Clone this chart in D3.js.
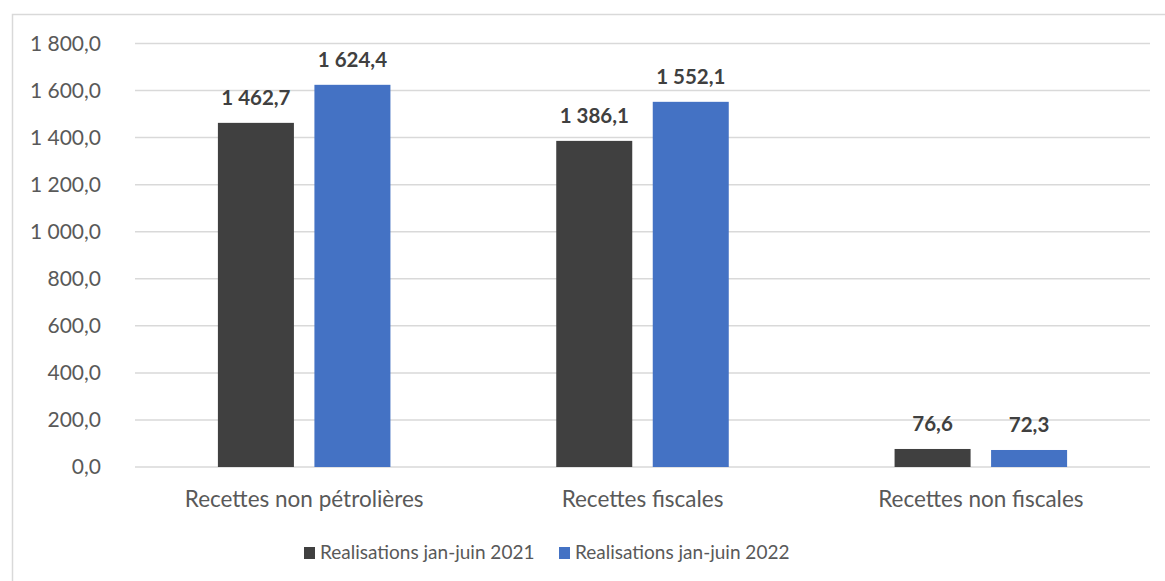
<!DOCTYPE html>
<html>
<head>
<meta charset="utf-8">
<script src="https://cdn.jsdelivr.net/npm/d3@7"></script>
<style>
  html, body { margin: 0; padding: 0; background: #fff; }
  svg { display: block; }
</style>
</head>
<body>
<svg id="chart" width="1165" height="581"></svg>
<script>
// Recettes (jan-juin), by category and period
const categories = ["Recettes non pétrolières", "Recettes fiscales", "Recettes non fiscales"];
const seriesNames = ["Realisations jan-juin 2021", "Realisations jan-juin 2022"];
const values2021 = [1462.7, 1386.1, 76.6];
const values2022 = [1624.4, 1552.1, 72.3];
const yTicks = [0, 200, 400, 600, 800, 1000, 1200, 1400, 1600, 1800];
const colors = ["#404040", "#4472C4"];

const W = 1165, H = 581;
const margin = { left: 135, right: 15, top: 43.5, bottom: 114 };
const svg = d3.select("#chart");
const font = "Lato, 'Open Sans', sans-serif";

// outer chart frame
svg.append("rect")
  .attr("x", 12.5).attr("y", 14.5)
  .attr("width", W + 20).attr("height", H + 20)
  .attr("fill", "#fff").attr("stroke", "#d9d9d9").attr("stroke-width", 1.5);

const x = d3.scaleBand().domain(categories).range([margin.left, W - margin.right]);
const y = d3.scaleLinear().domain([0, 1800]).range([H - margin.bottom, margin.top]);

const fmt = v => {
  const s = d3.format(",.1f")(v);
  return s.replace(/,/g, " ").replace(".", ",");
};

// horizontal gridlines
svg.append("g").selectAll("line").data(yTicks).join("line")
  .attr("x1", margin.left).attr("x2", W - margin.right)
  .attr("y1", d => y(d)).attr("y2", d => y(d))
  .attr("stroke", "#d9d9d9").attr("stroke-width", 1.5);

// y axis labels
const yAxis = d3.axisLeft(y).tickValues(yTicks).tickFormat(fmt).tickSize(0).tickPadding(34);
const gy = svg.append("g").attr("transform", `translate(${margin.left},0)`).call(yAxis);
gy.select(".domain").remove();
gy.selectAll("text").attr("font-family", font).attr("font-size", 21).attr("fill", "#595959");

// bars
const inner = d3.scaleBand().domain([0, 1]).range([0, x.bandwidth()]).paddingInner(0.2124).paddingOuter(0.859);
const rows = [];
categories.forEach((c, i) => {
  rows.push({ c, s: 0, v: values2021[i] });
  rows.push({ c, s: 1, v: values2022[i] });
});

svg.append("g").selectAll("rect").data(rows).join("rect")
  .attr("x", d => x(d.c) + inner(d.s))
  .attr("width", inner.bandwidth())
  .attr("y", d => y(d.v))
  .attr("height", d => y(0) - y(d.v))
  .attr("fill", d => colors[d.s]);

// value labels
svg.append("g").selectAll("text").data(rows).join("text")
  .attr("x", d => x(d.c) + inner(d.s) + inner.bandwidth() / 2)
  .attr("y", d => y(d.v) - 18)
  .attr("text-anchor", "middle")
  .attr("font-family", font).attr("font-weight", "bold").attr("font-size", 20.5)
  .attr("fill", "#404040")
  .text(d => fmt(d.v));

// category labels
const xAxis = d3.axisBottom(x).tickSize(0).tickPadding(24);
const gx = svg.append("g").attr("transform", `translate(0,${y(0)})`).call(xAxis);
gx.select(".domain").remove();
gx.selectAll("text").attr("font-family", font).attr("font-size", 22.5).attr("fill", "#595959");

// legend
const legendX = [304, 559];
const lg = svg.append("g").selectAll("g").data(seriesNames).join("g")
  .attr("transform", (d, i) => `translate(${legendX[i]},547)`);
lg.append("rect").attr("width", 11).attr("height", 12).attr("fill", (d, i) => colors[i]);
lg.append("text").attr("x", 16).attr("y", 11.5)
  .attr("font-family", font).attr("font-size", 19).attr("fill", "#595959")
  .text(d => d);
</script>
</body>
</html>
